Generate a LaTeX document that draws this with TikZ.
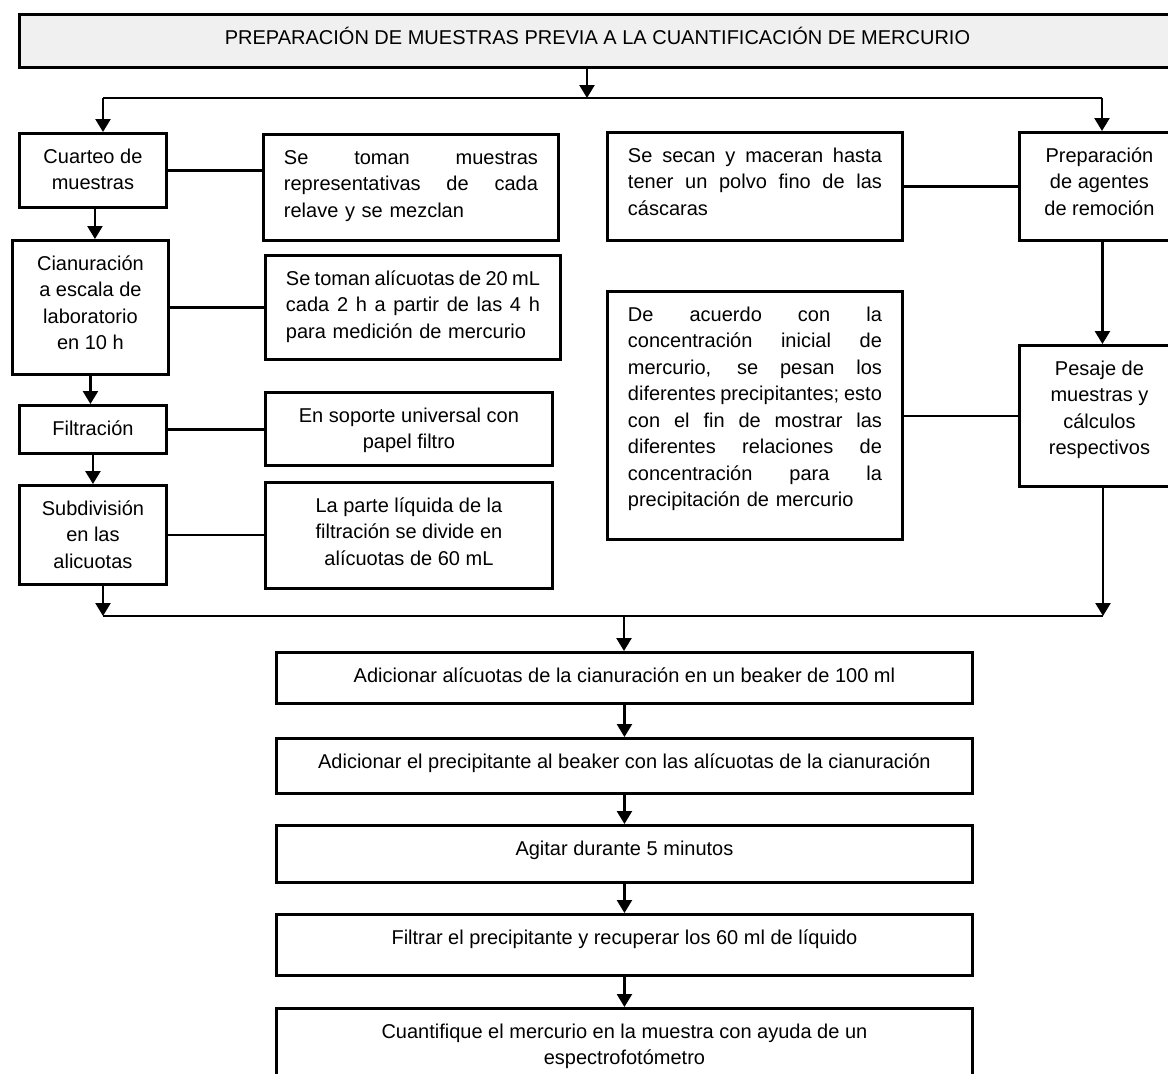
\documentclass[tikz,border=0pt]{standalone}
\usepackage{fontspec}
\setmainfont{Liberation Sans}
\usetikzlibrary{arrows.meta,calc}
\definecolor{titlegray}{RGB}{240,240,240}
% one justified line of a description box
\newcommand\jl[1]{\makebox[254pt][s]{\spaceskip=0pt\xspaceskip=0pt\relax #1}}
% text of a box, hung from the box's top edge
\newcommand\lbl[3]{\node[#1] (#2T) at ($(#2.north)+(0,12.5)$) {\strut #3};}
\begin{document}
\begin{tikzpicture}[x=1pt,y=-1pt,
  box/.style={draw=black, line width=2.9pt, fill=white, anchor=north west, inner sep=0pt},
  txt/.style={anchor=north, inner sep=0pt, font=\fontsize{20}{26.5}\selectfont, align=center},
  jtxt/.style={txt, align=left, text width=254pt},
  link/.style={line width=2.5pt},
  arr/.style={line width=2.5pt, -{Triangle[width=15pt,length=13pt]}}]
\useasboundingbox (0,0) rectangle (1168,1074);
\clip (0,0) rectangle (1168,1074);
\fill[white] (0,0) rectangle (1168,1074);

% title bar
\node[box, fill=titlegray, minimum width=1159pt, minimum height=53pt] (title) at (18,13) {};
\node[txt, anchor=base] (titleT) at (597.5,44.6) {PREPARACIÓN DE MUESTRAS PREVIA A LA CUANTIFICACIÓN DE MERCURIO};

% left column: steps
\node[box, minimum width=147pt, minimum height=74pt]  (cuarteo) at (18,132) {};
\node[box, minimum width=156pt, minimum height=134pt] (cian)    at (11,239) {};
\node[box, minimum width=147pt, minimum height=48pt]  (filt)    at (18,404) {};
\node[box, minimum width=147pt, minimum height=99pt]  (subd)    at (18,484) {};
\lbl{txt}{cuarteo}{Cuarteo de\\muestras}
\lbl{txt}{cian}{Cianuración\\a escala de\\laboratorio\\en 10 h}
\lbl{txt}{filt}{Filtración}
\lbl{txt}{subd}{Subdivisión\\en las\\alicuotas}

% left column: descriptions
\node[box, minimum width=295pt, minimum height=106pt] (dmues) at (262,133) {};
\node[box, minimum width=295pt, minimum height=104pt] (dalic) at (264,254) {};
\node[box, minimum width=287pt, minimum height=73pt]  (dsop)  at (264,391) {};
\node[box, minimum width=287pt, minimum height=106pt] (dliq)  at (264,481) {};
\lbl{jtxt}{dmues}{\jl{Se toman muestras}\\\jl{representativas de cada}\\relave y se mezclan}
\lbl{jtxt}{dalic}{\jl{Se toman alícuotas de 20 mL}\\\jl{cada 2 h a partir de las 4 h}\\para medición de mercurio}
\lbl{txt}{dsop}{En soporte universal con\\papel filtro}
\lbl{txt}{dliq}{La parte líquida de la\\filtración se divide en\\alícuotas de 60 mL}

% right column
\node[box, minimum width=295pt, minimum height=108pt] (dsec) at (606,131) {};
\node[box, minimum width=295pt, minimum height=248pt] (dacu) at (606,290) {};
\node[box, minimum width=160pt, minimum height=108pt] (prep) at (1018,131) {};
\node[box, minimum width=160pt, minimum height=141pt] (pesa) at (1018,344) {};
\lbl{jtxt}{dsec}{\jl{Se secan y maceran hasta}\\\jl{tener un polvo fino de las}\\cáscaras}
\lbl{jtxt}{dacu}{\jl{De acuerdo con la}\\\jl{concentración inicial de}\\\jl{mercurio, se pesan los}\\\jl{diferentes precipitantes; esto}\\\jl{con el fin de mostrar las}\\\jl{diferentes relaciones de}\\\jl{concentración para la}\\precipitación de mercurio}
\lbl{txt}{prep}{Preparación\\de agentes\\de remoción}
\lbl{txt}{pesa}{Pesaje de\\muestras y\\cálculos\\respectivos}

% common sequence
\node[box, minimum width=696pt, minimum height=51pt] (b1) at (275,651) {};
\node[box, minimum width=696pt, minimum height=55pt] (b2) at (275,737) {};
\node[box, minimum width=696pt, minimum height=57pt] (b3) at (275,824) {};
\node[box, minimum width=696pt, minimum height=61pt] (b4) at (275,913) {};
\node[box, minimum width=696pt, minimum height=80pt] (b5) at (275,1007) {};
\lbl{txt}{b1}{Adicionar alícuotas de la cianuración en un beaker de 100 ml}
\lbl{txt}{b2}{Adicionar el precipitante al beaker con las alícuotas de la cianuración}
\lbl{txt}{b3}{Agitar durante 5 minutos}
\lbl{txt}{b4}{Filtrar el precipitante y recuperar los 60 ml de líquido}
\lbl{txt}{b5}{Cuantifique el mercurio en la muestra con ayuda de un\\espectrofotómetro}

% split below the title
\coordinate (sp) at (587,98);
\coordinate (spL) at (103,98);
\coordinate (spR) at (1102,98);
\draw[arr] (title.south -| sp) -- (sp);
\draw[link] (spL) -- (spR);
\draw[arr] (spL) -- (spL |- cuarteo.north);
\draw[arr] (spR) -- (spR |- prep.north);

% left chain
\draw[arr] ($(cuarteo.south)+(2,0)$) -- ($(cuarteo.south |- cian.north)+(2,0)$);
\draw[arr] (cian.south) -- (cian.south |- filt.north);
\draw[arr] (filt.south) -- (subd.north);
\draw[link] (cuarteo.east) -- (cuarteo.east -| dmues.west);
\draw[link] (cian.east) -- (cian.east -| dalic.west);
\draw[link] (filt.east) -- (filt.east -| dsop.west);
\draw[link] (subd.east) -- (subd.east -| dliq.west);

% right chain
\draw[arr] ($(prep.south)+(3,0)$) -- ($(pesa.north)+(3,0)$);
\draw[link] (dsec.east) -- (dsec.east -| prep.west);
\draw[link] (pesa.west) -- (pesa.west -| dacu.east);

% merge
\coordinate (mL) at (103,616);
\coordinate (mR) at (1103,616);
\coordinate (mC) at (624,616);
\draw[arr] (subd.south -| mL) -- (mL);
\draw[arr] (pesa.south -| mR) -- (mR);
\draw[link] (mL) -- (mR);
\draw[arr] (mC) -- (mC |- b1.north);

% common sequence arrows
\draw[arr] (b1.south) -- (b2.north);
\draw[arr] (b2.south) -- (b3.north);
\draw[arr] (b3.south) -- (b4.north);
\draw[arr] (b4.south) -- (b5.north);
\end{tikzpicture}
\end{document}
